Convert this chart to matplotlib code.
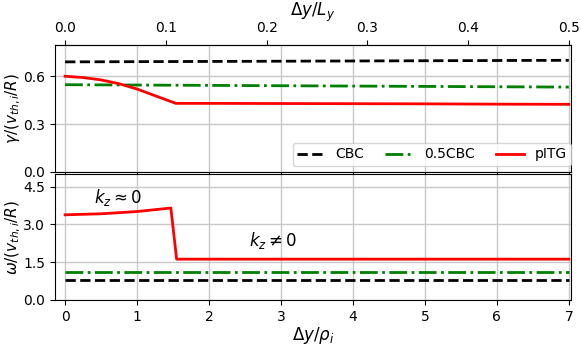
import matplotlib
matplotlib.use("Agg")
import matplotlib.pyplot as plt

# data, x in units of rho_i
L_y = 14.0

x_cbc = [0, 7]
gamma_cbc = [0.69, 0.70]
omega_cbc = [0.81, 0.81]

x_half = [0, 7]
gamma_half = [0.547, 0.532]
omega_half = [1.11, 1.11]

x_pitg_g = [0, 0.25, 0.5, 0.75, 1.0, 1.25, 1.54, 2, 3, 4, 5, 6, 7]
gamma_pitg = [0.600, 0.592, 0.577, 0.553, 0.520, 0.478, 0.430, 0.430, 0.429, 0.428, 0.427, 0.425, 0.424]

x_pitg_w = [0, 0.5, 1.0, 1.47, 1.55, 2, 4, 7]
omega_pitg = [3.38, 3.42, 3.51, 3.65, 1.62, 1.62, 1.62, 1.62]


def main():
    fig = plt.figure(figsize=(5.81, 3.46), dpi=100)
    ax1 = fig.add_axes([0.0947, 0.503, 0.888, 0.367])
    ax2 = fig.add_axes([0.0947, 0.133, 0.888, 0.3627], sharex=ax1)

    ax1.plot(x_cbc, gamma_cbc, "k--", lw=2, label="CBC")
    ax1.plot(x_half, gamma_half, "g-.", lw=2, label="0.5CBC")
    ax1.plot(x_pitg_g, gamma_pitg, "r-", lw=2, label="pITG")
    ax1.set_ylim(0, 0.796)
    ax1.set_yticks([0.0, 0.3, 0.6])
    ax1.set_ylabel(r"$\gamma/(v_{th,i}/R)$", fontsize=11, labelpad=0.5)
    ax1.grid(True, color="#c8c8c8", lw=1)
    ax1.tick_params(labelbottom=False)
    ax1.legend(loc="lower right", ncol=3, fontsize=10, borderpad=0.3,
               columnspacing=1.5, bbox_to_anchor=(1.0, 0.05), borderaxespad=0)

    top = ax1.secondary_xaxis("top", functions=(lambda x: x / L_y, lambda x: x * L_y))
    top.set_xticks([0.0, 0.1, 0.2, 0.3, 0.4, 0.5])
    top.set_xlabel(r"$\Delta y/L_y$", fontsize=12)
    top.tick_params(labelsize=10)

    ax2.plot(x_cbc, omega_cbc, "k--", lw=2)
    ax2.plot(x_half, omega_half, "g-.", lw=2)
    ax2.plot(x_pitg_w, omega_pitg, "r-", lw=2)
    ax2.set_ylim(0, 4.98)
    ax2.set_yticks([0.0, 1.5, 3.0, 4.5])
    ax2.set_xlim(-0.14, 7.03)
    ax2.set_xticks(range(8))
    ax2.set_ylabel(r"$\omega/(v_{th,i}/R)$", fontsize=11, labelpad=0.5)
    ax2.set_xlabel(r"$\Delta y/\rho_i$", fontsize=12, labelpad=1)
    ax2.grid(True, color="#c8c8c8", lw=1)
    ax2.text(0.4, 3.85, r"$k_z\approx0$", fontsize=12)
    ax2.text(2.55, 2.15, r"$k_z\neq0$", fontsize=12)

    for ax in (ax1, ax2):
        ax.tick_params(labelsize=10)
        ax.set_axisbelow(True)

    fig.align_ylabels([ax1, ax2])
    fig.savefig("out.png", dpi=100)


if __name__ == '__main__':
    main()
